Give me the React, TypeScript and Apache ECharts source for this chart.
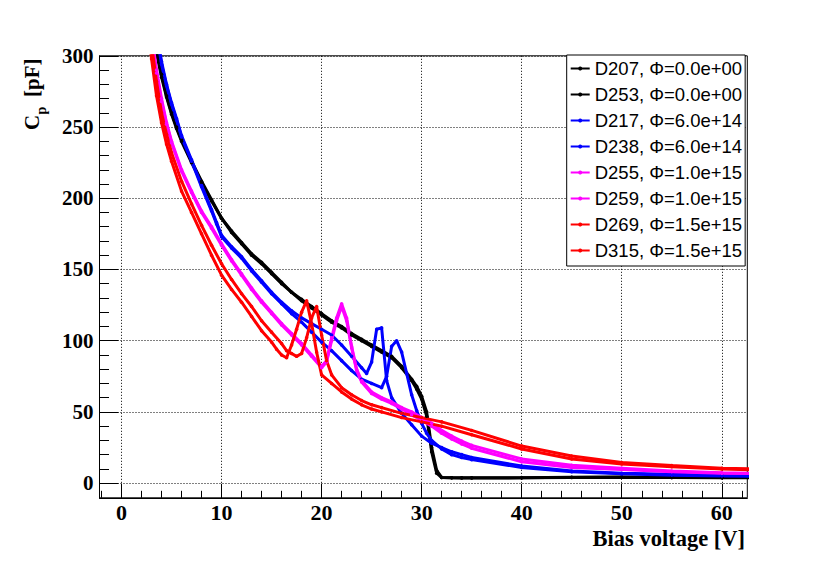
import React, { useEffect, useRef } from "react";
import * as echarts from "echarts";

// ---- data: [bias voltage (V), Cp (pF)] ----
const D207: number[][] = [
  [2.5, 362], [3, 330], [3.5, 304], [4, 287], [4.5, 272], [5, 260], [5.5, 250], [6, 241],
  [7, 226], [8, 212], [9, 199], [10, 186], [11, 177], [12, 169], [13, 161], [14, 155],
  [15, 148], [16, 141], [17, 134], [18, 129], [19, 124], [20, 119], [21, 114], [22, 110],
  [23, 105], [24, 101], [25, 97], [26, 93], [27, 89], [28, 82], [29, 73], [29.5, 68],
  [30, 61], [30.5, 50], [31, 25], [31.5, 9], [32, 4], [33, 3.8], [34, 3.7], [35, 3.7],
  [40, 3.8], [45, 4.2], [50, 4.3], [55, 4.0], [60, 3.9], [65, 3.9],
];
const D253: number[][] = [
  [2.5, 358], [3, 327], [3.5, 302], [4, 285], [4.5, 271], [5, 259], [5.5, 249], [6, 240],
  [7, 225], [8, 211], [9, 198], [10, 186], [11, 176], [12, 168], [13, 160], [14, 154],
  [15, 147], [16, 140], [17, 134], [18, 128], [19, 123], [20, 118], [21, 113], [22, 109],
  [23, 104], [24, 100], [25, 96], [26, 92], [27, 88], [28, 81], [29, 72], [29.5, 66],
  [30, 59], [30.5, 47], [31, 22], [31.5, 7], [32, 3.9], [33, 3.7], [34, 3.6], [35, 3.6],
  [40, 3.7], [45, 4.0], [50, 4.2], [55, 3.9], [60, 3.8], [65, 3.8],
];
const D217: number[][] = [
  [3, 345], [3.5, 318], [4, 296], [4.5, 280], [5, 267], [5.5, 256], [6, 244], [7, 227],
  [8, 209], [9, 192], [9.5, 183], [10, 174], [11, 166], [12, 159], [13, 150], [14, 142],
  [15, 134], [16, 127], [17, 121], [18, 116], [19, 112], [20, 108], [21, 104], [22, 97],
  [23, 89], [24, 81], [24.5, 77], [25, 85], [25.5, 108], [26, 109], [26.5, 72], [27, 60],
  [28, 49], [29, 41], [30, 33], [31, 28], [32, 25], [33, 22], [34, 20], [35, 18],
  [40, 12], [45, 8.5], [50, 7], [55, 6.2], [60, 5.5], [65, 5.2],
];
const D238: number[][] = [
  [3, 342], [3.5, 316], [4, 294], [4.5, 279], [5, 266], [5.5, 255], [6, 243], [7, 226],
  [8, 208], [9, 191], [9.5, 182], [10, 173], [11, 165], [12, 158], [13, 149], [14, 141],
  [15, 133], [16, 126], [17, 119], [18, 113], [19, 106], [20, 99], [21, 93], [22, 86],
  [23, 79], [24, 73], [25, 70], [26, 67], [26.5, 75], [27, 96], [27.5, 100], [28, 92],
  [28.5, 77], [29, 62], [29.5, 51], [30, 42], [30.5, 35], [31, 30], [32, 24], [33, 20],
  [34, 18], [35, 16.5], [40, 11], [45, 8], [50, 6.5], [55, 5.6], [60, 5.0], [65, 4.8],
];
const D255: number[][] = [
  [2.5, 345], [3, 315], [3.5, 290], [4, 270], [4.5, 253], [5, 240], [6, 220], [7, 205],
  [8, 191], [9, 180], [10, 168], [11, 157], [12, 147], [13, 137], [14, 128], [15, 120],
  [16, 112], [17, 105], [18, 98], [19, 90], [20, 82], [20.5, 86], [21, 102], [21.5, 116],
  [22, 126], [22.5, 116], [23, 96], [23.5, 80], [24, 72], [25, 64], [26, 60], [27, 57],
  [28, 53], [29, 50], [30, 46], [31, 42], [32, 37], [33, 33], [34, 29.5], [35, 26.5],
  [40, 17], [45, 12.5], [50, 10.5], [55, 8.5], [60, 7.2], [65, 6.8],
];
const D259: number[][] = [
  [2.5, 343], [3, 313], [3.5, 288], [4, 268], [4.5, 252], [5, 239], [6, 219], [7, 204],
  [8, 190], [9, 179], [10, 167], [11, 156], [12, 146], [13, 136], [14, 127], [15, 119],
  [16, 111], [17, 104], [18, 97], [19, 89], [20, 81], [20.5, 85], [21, 100], [21.5, 114],
  [22, 124], [22.5, 114], [23, 95], [23.5, 79], [24, 71], [25, 63], [26, 59], [27, 56],
  [28, 52], [29, 48], [30, 44], [31, 40], [32, 35], [33, 31], [34, 27.5], [35, 24.5],
  [40, 15], [45, 11], [50, 9.5], [55, 8], [60, 7], [65, 6.5],
];
const D269: number[][] = [
  [2.5, 330], [3, 298], [3.5, 272], [4, 253], [4.5, 238], [5, 226], [6, 205], [7, 190],
  [8, 175], [9, 160], [10, 146], [11, 136], [12, 127], [13, 117], [14, 107], [15, 99],
  [15.5, 94], [16, 90], [16.5, 88], [17, 97], [17.5, 108], [18, 120], [18.5, 128], [19, 112],
  [19.5, 92], [20, 76], [21, 70], [22, 64], [23, 59], [24, 55], [25, 52], [26, 50],
  [28, 46], [30, 43], [32, 40], [35, 34], [40, 24], [45, 17], [50, 13.5], [55, 11.5],
  [60, 10], [65, 9],
];
const D315: number[][] = [
  [2.5, 345], [3, 308], [3.5, 282], [4, 260], [4.5, 245], [5, 232], [6, 212], [7, 196],
  [8, 181], [9, 167], [10, 154], [11, 143], [12, 133], [13, 124], [14, 114], [15, 106],
  [16, 98], [16.5, 93], [17, 91], [17.5, 89], [18, 91], [18.5, 102], [19, 116], [19.5, 124],
  [20, 104], [20.5, 86], [21, 76], [22, 67], [23, 62], [24, 58], [25, 55], [26, 53],
  [28, 49], [30, 46], [32, 43], [35, 37], [40, 26], [45, 19], [50, 14.5], [55, 12.3],
  [60, 10.5], [65, 9.8],
];

const seriesData = [D207, D253, D217, D238, D255, D259, D269, D315];
const seriesNames = [
  "D207, Φ=0.0e+00",
  "D253, Φ=0.0e+00",
  "D217, Φ=6.0e+14",
  "D238, Φ=6.0e+14",
  "D255, Φ=1.0e+15",
  "D259, Φ=1.0e+15",
  "D269, Φ=1.5e+15",
  "D315, Φ=1.5e+15",
];
const seriesColors = ["#000000", "#000000", "#0000ff", "#0000ff", "#ff00ff", "#ff00ff", "#ff0000", "#ff0000"];

const xMajorTicks = [0, 10, 20, 30, 40, 50, 60];
const xMinorTicks = [-2, 2, 4, 6, 8, 12, 14, 16, 18, 22, 24, 26, 28, 32, 34, 36, 38, 42, 44, 46, 48, 52, 54, 56, 58, 62];
const yMajorTicks = [0, 50, 100, 150, 200, 250, 300];
const yMinorTicks = [10, 20, 30, 40, 60, 70, 80, 90, 110, 120, 130, 140, 160, 170, 180, 190, 210, 220, 230, 240, 260, 270, 280, 290];

const X_MIN = -2.2;
const X_MAX = 62.55;
const Y_MIN = -10.3;
const Y_MAX = 300;

const SERIF = "Liberation Serif";
const SANS = "Liberation Sans";

export default function App() {
  const ref = useRef<HTMLDivElement>(null);

  useEffect(() => {
    document.body.style.margin = "0";
    if (!ref.current) return;
    const chart = echarts.init(ref.current, undefined, { renderer: "svg" });

    const tickLine = { color: "#000", width: 1 };

    const option: any = {
      animation: false,
      backgroundColor: "#ffffff",
      grid: {
        left: 99.5,
        right: 82.7,
        top: 55.8,
        bottom: 69.2,
        show: true,
        borderColor: "#000",
        borderWidth: 1,
        backgroundColor: "transparent",
      },
      xAxis: [
        {
          type: "value",
          min: X_MIN,
          max: X_MAX,
          axisLine: { show: true, onZero: false, lineStyle: tickLine },
          axisTick: { show: true, inside: true, length: 14, customValues: xMajorTicks, lineStyle: tickLine },
          axisLabel: {
            show: true,
            customValues: xMajorTicks,
            margin: 6,
            fontFamily: SERIF,
            fontWeight: "bold",
            fontSize: 22,
            lineHeight: 18,
            color: "#000",
          },
          splitLine: { show: true, lineStyle: { color: "#000", width: 1, type: [1, 2] } },
        },
        {
          type: "value",
          min: X_MIN,
          max: X_MAX,
          position: "bottom",
          axisLine: { show: false, onZero: false },
          axisTick: { show: true, inside: true, length: 7, customValues: xMinorTicks, lineStyle: tickLine },
          axisLabel: { show: false },
          splitLine: { show: false },
        },
      ],
      yAxis: [
        {
          type: "value",
          min: Y_MIN,
          max: Y_MAX,
          axisLine: { show: true, onZero: false, lineStyle: tickLine },
          axisTick: { show: true, inside: true, length: 19, customValues: yMajorTicks, lineStyle: tickLine },
          axisLabel: {
            show: true,
            customValues: yMajorTicks,
            margin: 6,
            fontFamily: SERIF,
            fontWeight: "bold",
            fontSize: 21,
            color: "#000",
          },
          splitLine: { show: true, lineStyle: { color: "#000", width: 1, type: [1, 2] } },
        },
        {
          type: "value",
          min: Y_MIN,
          max: Y_MAX,
          position: "left",
          axisLine: { show: false, onZero: false },
          axisTick: { show: true, inside: true, length: 9.5, customValues: yMinorTicks, lineStyle: tickLine },
          axisLabel: { show: false },
          splitLine: { show: false },
        },
      ],
      legend: {
        orient: "vertical",
        left: 566.7,
        top: 55,
        padding: [4, 3, 6, 3],
        itemGap: 7.0,
        itemWidth: 19,
        itemHeight: 5,
        backgroundColor: "#ffffff",
        borderColor: "#000",
        borderWidth: 1,
        borderRadius: 0,
        selectedMode: false,
        textStyle: { fontFamily: SANS, fontSize: 18.5, color: "#000" },
        data: seriesNames,
      },
      graphic: [
        {
          type: "text",
          x: 745,
          y: 538,
          style: {
            text: "Bias voltage [V]",
            fill: "#000",
            fontFamily: SERIF,
            fontWeight: "bold",
            fontSize: 22.5,
            lineHeight: 18,
            align: "right",
            verticalAlign: "middle",
          },
        },
        {
          type: "group",
          x: 39.3,
          y: 130,
          rotation: Math.PI / 2,
          children: [
            {
              type: "text",
              x: 0,
              y: -7,
              style: { text: "C", fill: "#000", fontFamily: SERIF, fontWeight: "bold", fontSize: 21, align: "left", verticalAlign: "middle" },
            },
            {
              type: "text",
              x: 15.5,
              y: 1.8,
              style: { text: "p", fill: "#000", fontFamily: SERIF, fontWeight: "bold", fontSize: 14, align: "left", verticalAlign: "middle" },
            },
            {
              type: "text",
              x: 33,
              y: -7,
              style: { text: "[pF]", fill: "#000", fontFamily: SERIF, fontWeight: "bold", fontSize: 21, align: "left", verticalAlign: "middle" },
            },
          ],
        },
      ],
      series: seriesData.map((d, i) => ({
        name: seriesNames[i],
        type: "line",
        xAxisIndex: 0,
        yAxisIndex: 0,
        data: d,
        showSymbol: true,
        symbol: "circle",
        symbolSize: 3.5,
        clip: true,
        smooth: false,
        lineStyle: { width: 3, color: seriesColors[i] },
        itemStyle: { color: seriesColors[i] },
        emphasis: { disabled: true },
        silent: true,
      })),
    };

    chart.setOption(option);
    return () => {
      chart.dispose();
    };
  }, []);

  return (
    <div
      ref={ref}
      style={{ position: "absolute", left: 0, top: 0, width: 830, height: 567 }}
    />
  );
}
